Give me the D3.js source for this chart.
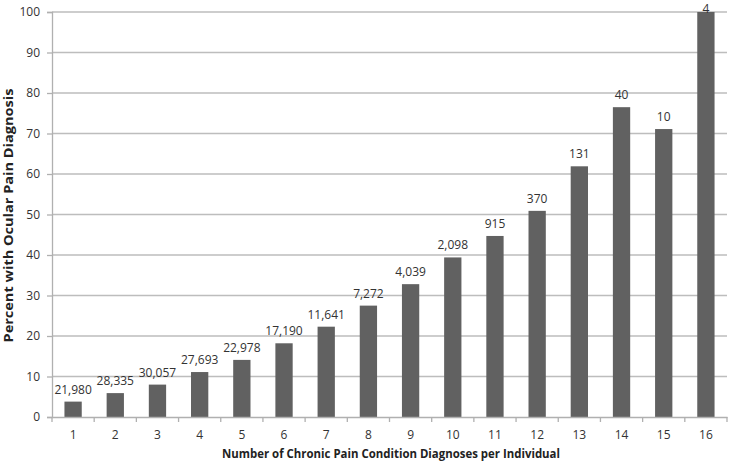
<!DOCTYPE html>
<html><head><meta charset="utf-8">
<script src="https://cdn.jsdelivr.net/npm/d3@7"></script>
<style>body{margin:0;background:#fff;} svg{display:block;}</style>
</head><body>
<svg id="c" width="730" height="466"></svg>
<script>
const categories = ["1","2","3","4","5","6","7","8","9","10","11","12","13","14","15","16"];
const percents = [3.8, 5.9, 8.0, 11.1, 14.1, 18.2, 22.3, 27.5, 32.8, 39.4, 44.7, 50.9, 61.9, 76.5, 71.1, 100];
const counts = ["21,980","28,335","30,057","27,693","22,978","17,190","11,641","7,272","4,039","2,098","915","370","131","40","10","4"];
const yTicks = [0,10,20,30,40,50,60,70,80,90,100];
const xTitle = "Number of Chronic Pain Condition Diagnoses per Individual";
const yTitle = "Percent with Ocular Pain Diagnosis";

const svg = d3.select("#c");
const m = {left:52, right:3, top:12, bottom:49};
const W = 730, H = 466;
const x = d3.scaleBand().domain(categories).range([m.left, W - m.right]).paddingInner(0.59).paddingOuter(0.295);
const y = d3.scaleLinear().domain([0,100]).range([H - m.bottom, m.top]);
const font = "'Open Sans', sans-serif";

// gridlines
svg.append("g").selectAll("line").data(yTicks.filter(d=>d>0)).join("line")
  .attr("x1", m.left).attr("x2", W - m.right)
  .attr("y1", d=>y(d)).attr("y2", d=>y(d))
  .attr("stroke", "#bdbdbd").attr("stroke-width", 1.3);

// bars
svg.append("g").selectAll("rect").data(categories).join("rect")
  .attr("x", d=>x(d)).attr("width", x.bandwidth())
  .attr("y", (d,i)=>y(percents[i])).attr("height", (d,i)=>y(0)-y(percents[i]))
  .attr("fill", "#616161");

// bar labels
svg.append("g").selectAll("text").data(categories).join("text")
  .attr("x", d=>x(d)+x.bandwidth()/2)
  .attr("y", (d,i)=>Math.max(y(percents[i]) - 8, 13))
  .attr("text-anchor","middle")
  .attr("font-family", font).attr("font-size", 12).attr("fill", "#333")
  .text((d,i)=>counts[i]);

// y axis
const ya = svg.append("g").attr("transform", `translate(${m.left},0)`)
  .call(d3.axisLeft(y).tickValues(yTicks).tickSize(5).tickPadding(7));
ya.select(".domain").attr("stroke","#b0b0b0").attr("stroke-width",1.3);
ya.selectAll(".tick line").attr("stroke","#b0b0b0").attr("stroke-width",1.3);
ya.selectAll("text").attr("font-family", font).attr("font-size", 12).attr("fill","#333");

// x axis
const xa = svg.append("g").attr("transform", `translate(0,${y(0)})`)
  .call(d3.axisBottom(x).tickSize(0).tickPadding(13));
xa.select(".domain").attr("stroke","#b0b0b0").attr("stroke-width",1.3);
xa.selectAll("text").attr("font-family", font).attr("font-size", 12).attr("fill","#333");
const bounds = d3.range(categories.length + 1).map(i => m.left + i * (W - m.right - m.left) / categories.length);
xa.append("g").selectAll("line").data(bounds).join("line")
  .attr("x1", d=>d).attr("x2", d=>d).attr("y1", 0).attr("y2", 5)
  .attr("stroke","#b0b0b0").attr("stroke-width",1.3);

// axis titles
svg.append("text").attr("x", 391).attr("y", 458)
  .attr("text-anchor","middle").attr("font-family", font).attr("font-weight","bold")
  .attr("font-size", 11.5).attr("fill","#222")
  .attr("textLength", 338).attr("lengthAdjust","spacingAndGlyphs").text(xTitle);
svg.append("text").attr("transform", `translate(13,215.5) rotate(-90)`)
  .attr("text-anchor","middle").attr("font-family", font).attr("font-weight","bold")
  .attr("font-size", 11.5).attr("fill","#222")
  .attr("textLength", 254).attr("lengthAdjust","spacingAndGlyphs").text(yTitle);
</script>
</body></html>
